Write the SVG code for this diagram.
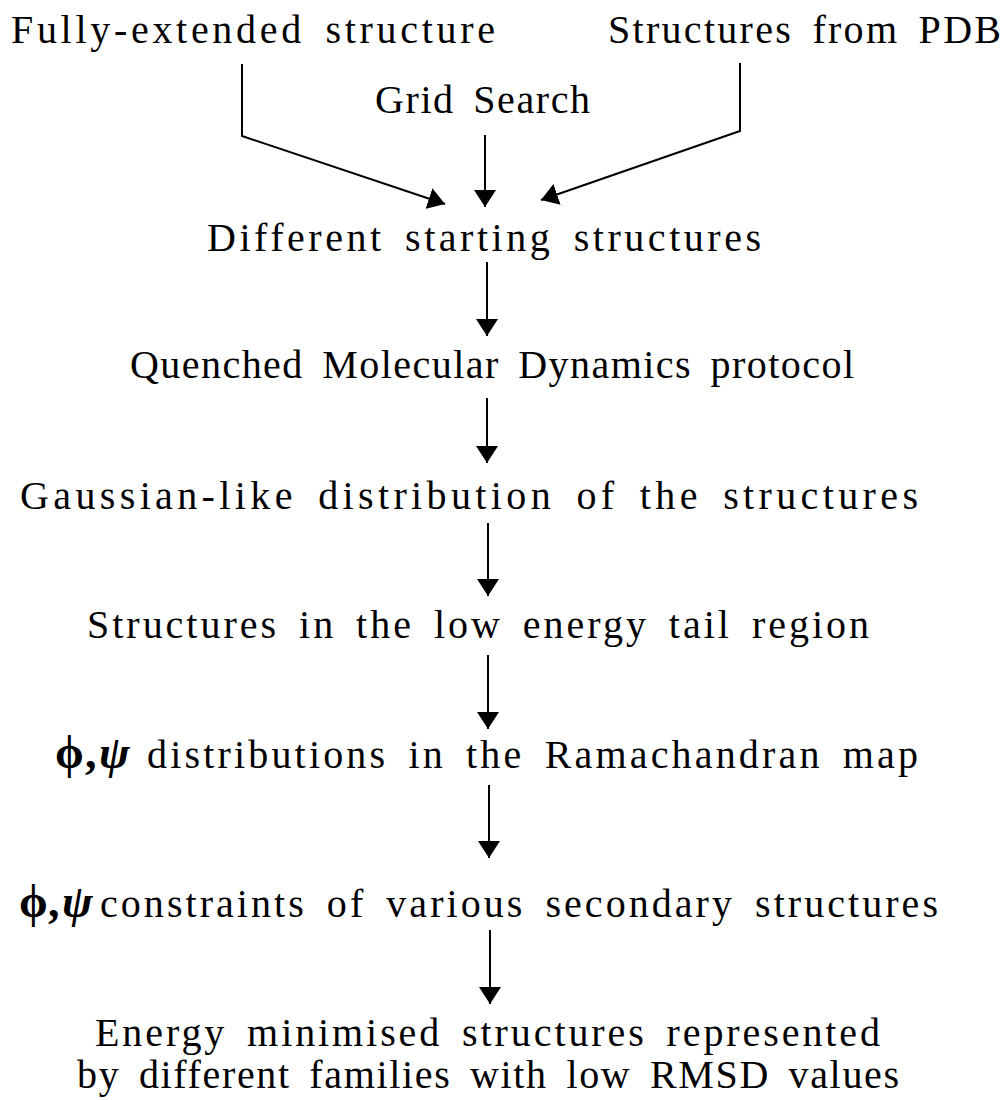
<svg xmlns="http://www.w3.org/2000/svg" width="1005" height="1100" viewBox="0 0 1005 1100">
<style>
.t{font-family:"Liberation Serif","Times New Roman",serif;font-size:40px;word-spacing:7px;fill:#000}
.g{font-family:"Liberation Serif","DejaVu Serif",serif;font-size:46px;font-weight:bold;fill:#000}
.gi{font-style:italic}
.c{stroke:#000;stroke-width:2;fill:none}
</style>
<defs>
<marker id="ah" viewBox="0 -11 17 22" markerWidth="17" markerHeight="22" refX="17" refY="0" orient="auto" markerUnits="userSpaceOnUse">
<path d="M0,-11 L17,0 L0,11 z" fill="#000"/>
</marker>
</defs>
<rect width="1005" height="1100" fill="#fff"/>
<g id="connectors">
<polyline class="c" points="242,64 242,136 445,204" marker-end="url(#ah)"/>
<polyline class="c" points="740,63 740,131 541,200" marker-end="url(#ah)"/>
<line class="c" x1="485" y1="135" x2="485" y2="207" marker-end="url(#ah)"/>
<line class="c" x1="487" y1="262" x2="487" y2="336" marker-end="url(#ah)"/>
<line class="c" x1="487" y1="398" x2="487" y2="463" marker-end="url(#ah)"/>
<line class="c" x1="488" y1="523" x2="488" y2="596" marker-end="url(#ah)"/>
<line class="c" x1="488" y1="655" x2="488" y2="729" marker-end="url(#ah)"/>
<line class="c" x1="489" y1="785" x2="489" y2="858" marker-end="url(#ah)"/>
<line class="c" x1="490" y1="930" x2="490" y2="1004" marker-end="url(#ah)"/>
</g>
<g id="n_full"><text class="t" x="11" y="43" textLength="484" lengthAdjust="spacing">Fully-extended structure</text></g>
<g id="n_pdb"><text class="t" x="608" y="43" textLength="393" lengthAdjust="spacing">Structures from PDB</text></g>
<g id="n_grid"><text class="t" x="375" y="113" textLength="215" lengthAdjust="spacing">Grid Search</text></g>
<g id="n_diff"><text class="t" x="207" y="251" textLength="554" lengthAdjust="spacing">Different starting structures</text></g>
<g id="n_qmd"><text class="t" x="130" y="378" textLength="724" lengthAdjust="spacing">Quenched Molecular Dynamics protocol</text></g>
<g id="n_gauss"><text class="t" x="20" y="509" textLength="898" lengthAdjust="spacing">Gaussian-like distribution of the structures</text></g>
<g id="n_low"><text class="t" x="87" y="638" textLength="782" lengthAdjust="spacing">Structures in the low energy tail region</text></g>
<g id="n_rama">
<text class="g" x="55" y="768">ϕ</text><text class="g" x="85" y="768">,</text><text class="g gi" x="99" y="768">ψ</text>
<text class="t" x="147" y="768" textLength="771" lengthAdjust="spacing">distributions in the Ramachandran map</text>
</g>
<g id="n_cons">
<text class="g" x="19" y="917">ϕ</text><text class="g" x="48" y="917">,</text><text class="g gi" x="62" y="917">ψ</text>
<text class="t" x="100" y="917" textLength="838" lengthAdjust="spacing">constraints of various secondary structures</text>
</g>
<g id="n_final">
<text class="t" x="95" y="1046" textLength="785" lengthAdjust="spacing">Energy minimised structures represented</text>
<text class="t" x="77" y="1088" textLength="822" lengthAdjust="spacing">by different families with low RMSD values</text>
</g>
</svg>
